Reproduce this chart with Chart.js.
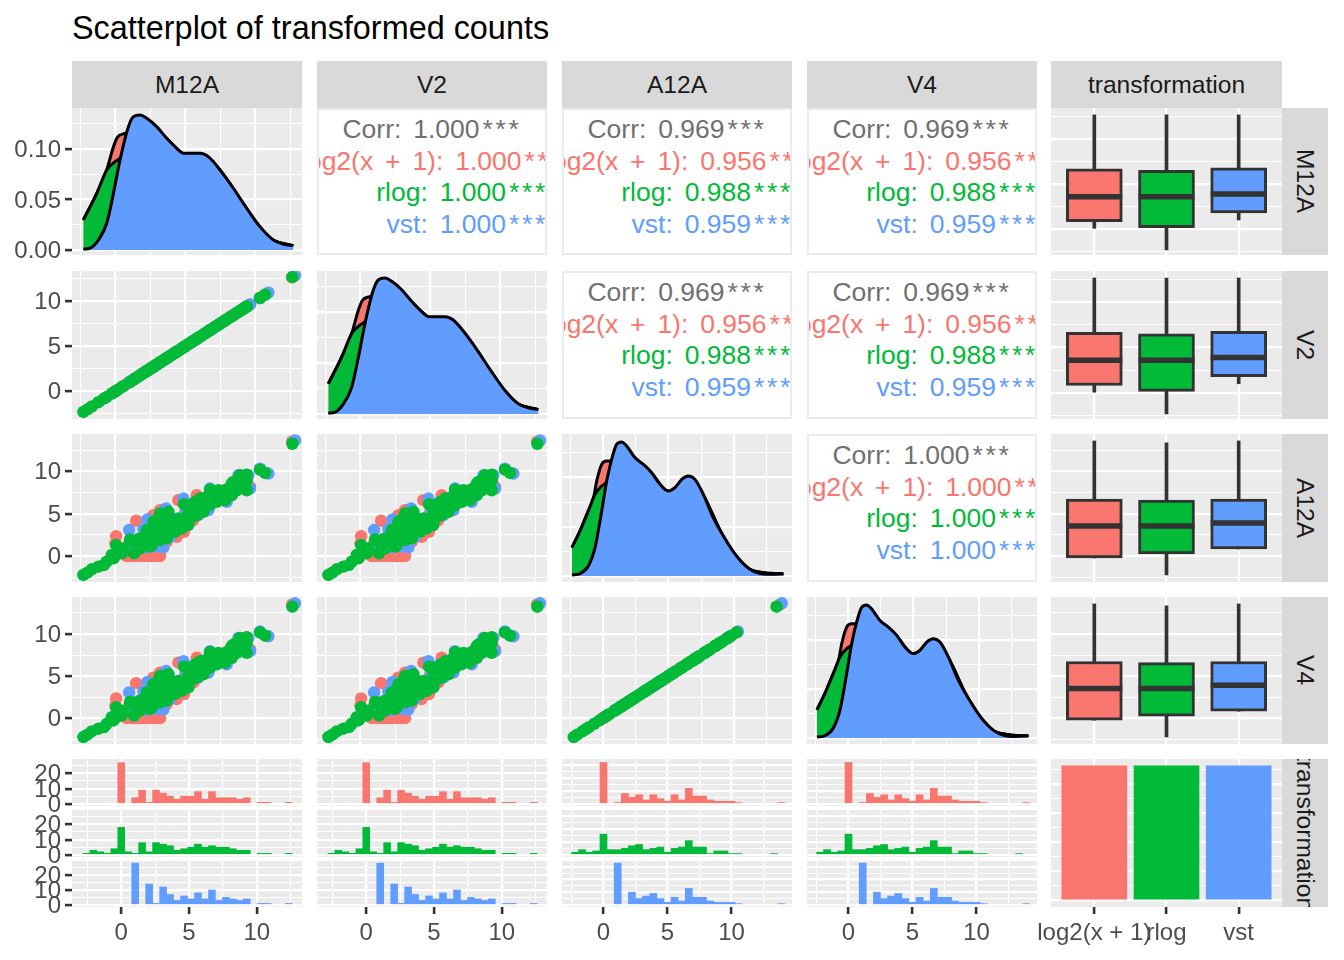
<!DOCTYPE html>
<html>
<head>
<meta charset="utf-8">
<title>Scatterplot of transformed counts</title>
<script src="https://cdn.jsdelivr.net/npm/chart.js@4/dist/chart.umd.min.js"></script>
<style>
html, body { margin: 0; padding: 0; background: #fff; overflow: hidden; width: 1344px; height: 960px; }
body { font-family: "Liberation Sans", sans-serif; position: relative; }
canvas { position: absolute; }
.title { position: absolute; left: 72px; top: 9px; font-size: 32.4px; line-height: 38px; color: #000; white-space: nowrap; }
.strip { position: absolute; background: #D9D9D9; color: #1A1A1A; font-size: 24.6px; display: flex; align-items: center; justify-content: center; overflow: hidden; white-space: nowrap; }
.strip.right { writing-mode: vertical-rl; }
.corr { position: absolute; box-sizing: border-box; border: 2px solid #EBEBEB; background: #fff; overflow: hidden; }
.corr div { position: absolute; white-space: nowrap; font-size: 26.5px; line-height: 32px; word-spacing: 4.5px; }
.corr span { letter-spacing: 2.7px; margin-left: 3px; }
</style>
</head>
<body>
<div class="title">Scatterplot of transformed counts</div>
<script>
// ---- data ----
var stripTop = ['M12A', 'V2', 'A12A', 'V4', 'transformation'];
var stripRight = ['M12A', 'V2', 'A12A', 'V4', 'transformation'];
var tfLabels = ['log2(x + 1)', 'rlog', 'vst'];
var tfCounts = [116, 116, 116];

// scatter, paired values per gene
var rlogM12A = [-2.29,-2,-1.69,-1.21,-.81,-.62,-.26,-.14,.05,.21,.45,1.05,1.33,1.64,1.76,2.12,2.29,2.6,2.6,2.9,3.07,3.19,3.43,3.62,3.79,3.79,4.26,4.14,4.67,4.74,4.9,5.21,5.57,5.69,6.05,5.81,6.4,6.76,6.76,7.24,7.71,7.83,8.19,8.31,8.67,9.02,9.26,9.38,8.9,10.33,10.69,12.64,
    .57,1.4,2,2.36,2.71,2.95,3.31,3.19,3.55,3.79,4.02,4.38,4.5,4.98,5.21,5.45,5.81,6.17,6.52,7,7.48,8.07,8.43,8.9,9.14,9.38,
    5.81,6.29,6.76,7.24,7.83,8.31,8.67,9.38,6.76,7.36,3.19,2.71,2.24,1.76,2.48,3.19,3.67,4.26,4.74,5.21,5.45];
var rlogA12A = [-2.24,-1.96,-1.57,-1.25,-1.06,-.67,.12,-.27,1.29,.51,.31,1.96,.31,1.29,2.08,1.69,2.59,1.29,2.27,3.06,4.43,2.67,3.84,2.47,5.22,3.45,4.24,3.25,3.65,4.24,6.12,6,5.41,6.39,6.78,5.41,6.39,7.37,6.78,7.18,6.98,7.76,7.37,8.55,8.94,8.16,8.55,9.61,9.53,10.2,9.8,13.25,
    .9,1.49,2.08,1.69,2.86,2.08,3.25,3.84,4.43,4.63,3.84,3.45,4.43,4.04,5.02,5.8,6,5.61,6.98,6.98,7.37,7.96,8.75,8.55,9.14,8.94,
    4.82,5.22,6,6.39,6.59,7.18,7.76,7.76,7.84,7.76,5.02,4.04,3.06,.9,1.1,1.88,2.08,2.86,3.25,3.65,4.55];
var vstM12A = [12.83,10.93,10.33,9.62,9.5,8.79,7.95,8.31,6.76,6.64,5.93,4.86,3.62,2.29,2,.98,1.05,3.43,2.95,2.24,3.9,4.5,5,3,4,5.3,6,7,7.5,2.5,1.6,1.3,3.5];
var vstA12A = [13.65,9.73,10.3,7.96,9.53,9.53,6.39,7.18,7.96,5.41,4.82,6.78,5.61,4.31,3.18,3.06,1.1,1.02,1.1,1,2.27,3.5,5,3.6,4.5,5.4,6,6.8,7.2,2.4,2,1.4,2.8];
var log2M12A = [1.48,.05,0,.81,1.1,1.4,1.7,2,2.3,2.6,2.9,3.19,0,3.19,2.71,4.5,5.81,4.9,5.57,4.38,3.67,9.62,10.33,12.62,6.5,7.5,8.5,9.2,4,3,5,2,1];
var log2A12A = [4.16,2.35,1.5,0,0,0,0,0,0,0,0,0,0,5.41,4.82,6.59,7.18,2.86,4.24,2.27,1.69,8.16,10.2,13.5,6.5,7.3,8.6,9.4,4.2,3.2,5.2,2.3,1.6];

// density curves of M12A (same shape for V2)
var densLog2XA = [-2.29,-1.33,-.62,-.14,.14,.69,1.29,1.76,3,5,7,9,11,12.7];
var densLog2YA = [.0297,.0561,.0792,.1023,.1116,.1155,.12,.126,.117,.093,.085,.047,.012,.0042];
var densRlogXA = [-2.29,-1.33,-.62,-.02,.33,.9,1.76,3,5,7,9,11,12.7];
var densRlogYA = [.0297,.0561,.0792,.0875,.0908,.1,.127,.118,.094,.086,.048,.012,.0042];
var densVstXA = [-2.29,-1.81,-1.21,-.62,-.14,.33,.93,1.29,1.76,2.24,2.95,3.67,4.38,4.86,6.05,6.64,7.48,8.43,9.38,10.33,11.29,12,12.71];
var densVstYA = [.0007,.0017,.0099,.0264,.0561,.0891,.1221,.132,.1337,.1304,.1221,.1106,.1007,.0957,.0957,.0924,.0792,.0611,.0413,.0231,.0099,.0059,.0043];

// density curves of A12A (same shape for V4)
var densLog2XB = [-2.37,-1.76,-1.12,-.74,-.48,-.1,.28,.53,1.4,2.44,3.72,5,6.5,7.66,9.19,11.22,13.77];
var densLog2YB = [.0288,.0457,.0661,.0779,.0965,.1135,.1169,.1169,.124,.117,.103,.085,.099,.081,.04,.0065,.002];
var densRlogXB = [-2.37,-1.76,-1.12,-.61,-.1,.15,.6,1.4,2.44,3.72,5,6.5,7.66,9.19,11.22,13.77];
var densRlogYB = [.0288,.0457,.0661,.083,.0915,.0938,.1,.125,.118,.104,.086,.1,.082,.04,.0065,.002];
var densVstXB = [-2.37,-1.76,-1.12,-.61,-.1,.28,.66,1.04,1.42,1.81,2.44,3.08,3.72,4.35,4.99,5.5,6.01,6.51,7.02,7.66,8.42,9.19,10.2,11.22,11.98,12.75,13.77];
var densVstYB = [.001,.0024,.0102,.0288,.0661,.0965,.1186,.1338,.1362,.1321,.1203,.1135,.105,.0932,.0864,.0898,.0982,.1016,.0982,.083,.0593,.0407,.0203,.0068,.0024,.0017,.0024];

// histogram bins
var binsA = [-2.57,-2.06,-1.54,-1.03,-.51,0,.51,1.03,1.54,2.06,2.57,3.09,3.6,4.12,4.63,5.15,5.66,6.17,6.69,7.2,7.72,8.23,8.75,9.26,9.78,10.29,10.8,11.32,11.83,12.35];
var binsB = [-2.22,-1.67,-1.11,-.56,0,.56,1.11,1.67,2.22,2.78,3.33,3.89,4.44,5,5.55,6.11,6.66,7.22,7.77,8.33,8.88,9.44,9.99,10.55,11.1,11.66,12.21,12.77,13.32,13.88];
var histLog2A = [0,0,0,0,0,27,0,4,9,1,9,7,5,3,5,5,8,3,8,4,4,4,3,4,0,1,1,0,0,1];
var histRlogA = [1,3,2,1,4,18,2,1,8,2,8,7,6,3,4,5,7,5,6,5,5,4,3,3,0,1,1,0,0,1];
var histVstA = [0,0,0,0,0,0,0,28,0,14,1,12,7,3,6,4,8,4,10,3,5,4,3,4,0,1,1,0,0,1];
var histLog2B = [0,0,0,0,32,0,1,8,5,7,3,7,4,2,7,3,12,6,6,3,2,2,2,1,0,0,0,0,0,1];
var histRlogB = [2,4,2,3,16,4,4,5,7,8,4,5,6,2,5,6,11,6,6,1,3,3,1,1,0,0,0,0,1,0];
var histVstB = [0,0,0,0,0,0,33,0,10,5,7,9,5,2,6,3,13,6,6,3,2,2,2,1,0,0,0,0,0,1];

// boxplots: log2, rlog, vst
var boxLowA = [.07,-2.33,1], boxQ1A = [.81,.15,1.78], boxMedA = [3.59,3.59,3.89], boxQ3A = [6.67,6.52,6.78], boxHighA = [12.67,12.67,12.67];
var boxLowB = [-.24,-2.24,.83], boxQ1B = [-.24,.24,.83], boxMedB = [3.54,3.54,3.9], boxQ3B = [6.73,6.61,6.73], boxHighB = [13.58,13.35,13.58];

// correlation text
var corrLabels = ['Corr', 'log2(x + 1)', 'rlog', 'vst'];
var corrAA = ['1.000', '1.000', '1.000', '1.000'];
var corrAB = ['0.969', '0.956', '0.988', '0.959'];
var corrBB = ['1.000', '1.000', '1.000', '1.000'];

// ---- layout ----
var RED = '#F8766D', GREEN = '#00BA38', BLUE = '#619CFF';
var FONT = '"Liberation Sans", sans-serif';
var colX = [72, 317, 562, 807, 1051], colW = [230, 230, 230, 230, 231];
var rowY = [108, 271, 434, 597, 759], rowH = [147, 148, 148, 147, 148];
var mL = 70, mT = 14, mR = 4, mB = 50;

Chart.register({
    id: 'panelBg',
    beforeDraw: function (chart) {
        var a = chart.chartArea, c = chart.ctx;
        c.save();
        c.fillStyle = '#EBEBEB';
        c.fillRect(a.left, a.top, a.right - a.left, a.bottom - a.top);
        c.restore();
    }
});

function isMajor(v, every) {
    return Math.abs(v / every - Math.round(v / every)) < 1e-6;
}

function axis(min, max, step, every, show, horizontal, label) {
    return {
        type: 'linear', min: min, max: max, offset: false,
        afterFit: function (s) {
            if (horizontal) s.height = show ? mB : 0; else s.width = show ? mL : 0;
            s.paddingLeft = s.paddingRight = s.paddingTop = s.paddingBottom = 0;
        },
        border: { display: false },
        grid: {
            color: '#fff', offset: false, drawTicks: show, tickLength: 7, tickWidth: 2.6,
            lineWidth: function (c) { return c.tick && isMajor(c.tick.value, every) ? 2.2 : 1.1; },
            tickColor: function (c) { return c.tick && isMajor(c.tick.value, every) ? '#333' : 'transparent'; }
        },
        ticks: {
            display: show, stepSize: step, includeBounds: false, autoSkip: false, maxRotation: 0, minRotation: 0,
            color: '#4D4D4D', padding: horizontal ? 5 : 4, labelOffset: horizontal ? 0 : 1.5, font: { family: FONT, size: 24 },
            callback: function (v) { return isMajor(v, every) ? (label ? label(v) : String(v)) : ''; }
        }
    };
}

function panel(x, y, w, h, type, datasets, xs, ys, showX, showY) {
    var cv = document.createElement('canvas');
    cv.width = w + mL + mR;
    cv.height = h + mT + mB;
    cv.style.left = (x - mL) + 'px';
    cv.style.top = (y - mT) + 'px';
    document.body.appendChild(cv);
    return new Chart(cv.getContext('2d'), {
        type: type,
        data: { datasets: datasets },
        options: {
            responsive: false, animation: false, devicePixelRatio: 1, events: [],
            layout: { autoPadding: false, padding: { left: showY ? 0 : mL, top: mT, right: mR, bottom: showX ? 0 : mB } },
            plugins: { legend: { display: false }, tooltip: { enabled: false } },
            scales: { x: xs, y: ys }
        }
    });
}

function zip(xv, yv) {
    return xv.map(function (v, i) { return { x: v, y: yv[i] }; });
}

// ---- strips ----
function strip(cls, x, y, w, h, text) {
    var d = document.createElement('div');
    d.className = 'strip ' + cls;
    d.style.cssText = 'left:' + x + 'px;top:' + y + 'px;width:' + w + 'px;height:' + h + 'px';
    d.textContent = text;
    document.body.appendChild(d);
}
stripTop.forEach(function (t, i) { strip('', colX[i], 61, colW[i], 47, t); });
stripRight.forEach(function (t, i) { strip('right', 1282, rowY[i], 46, rowH[i], t); });

// ---- correlation cells ----
function corrCell(c, r, vals) {
    var d = document.createElement('div');
    d.className = 'corr';
    d.style.cssText = 'left:' + colX[c] + 'px;top:' + rowY[r] + 'px;width:' + colW[c] + 'px;height:' + rowH[r] + 'px';
    var colors = ['#707070', RED, GREEN, BLUE];
    corrLabels.forEach(function (lab, i) {
        var t = document.createElement('div');
        t.textContent = lab + ': ' + vals[i];
        var stars = document.createElement('span');
        stars.textContent = '***';
        t.appendChild(stars);
        t.style.color = colors[i];
        t.style.top = (3 + i * 31.5) + 'px';
        if (i === 0) { t.style.left = '50%'; t.style.transform = 'translateX(-50%)'; }
        else if (i === 1) t.style.left = '-18px';
        else t.style.right = '-3px';
        d.appendChild(t);
    });
    document.body.appendChild(d);
}
corrCell(1, 0, corrAA);
corrCell(2, 0, corrAB);
corrCell(3, 0, corrAB);
corrCell(2, 1, corrAB);
corrCell(3, 1, corrAB);
corrCell(3, 2, corrBB);

// ---- density cells ----
function density(c, r, lx, ly, gx, gy, bx, by, xMin, xMax, yMin, yMax, showY) {
    function ds(xv, yv, col) {
        return { data: zip(xv, yv), backgroundColor: col, borderColor: '#000', borderWidth: 3, pointRadius: 0, fill: 'origin', cubicInterpolationMode: 'monotone' };
    }
    panel(colX[c], rowY[r], colW[c], rowH[r], 'line',
        [ds(bx, by, BLUE), ds(gx, gy, GREEN), ds(lx, ly, RED)],
        axis(xMin, xMax, 2.5, 5, false, true),
        axis(yMin, yMax, .025, .05, showY, false, function (v) { return v.toFixed(2); }),
        false, showY);
}
density(0, 0, densLog2XA, densLog2YA, densRlogXA, densRlogYA, densVstXA, densVstYA, -3.1, 13.33, -.005, .1406, true);
density(1, 1, densLog2XA, densLog2YA, densRlogXA, densRlogYA, densVstXA, densVstYA, -3.1, 13.33, -.005, .1406, false);
density(2, 2, densLog2XB, densLog2YB, densRlogXB, densRlogYB, densVstXB, densVstYB, -3.13, 14.43, -.0061, .1443, false);
density(3, 3, densLog2XB, densLog2YB, densRlogXB, densRlogYB, densVstXB, densVstYB, -3.13, 14.43, -.0061, .1443, false);

// ---- scatter cells ----
function scatter(c, r, lx, ly, gx, gy, bx, by, xMin, xMax, yMin, yMax, showY) {
    function ds(xv, yv, col) {
        return { data: zip(xv, yv), backgroundColor: col, borderWidth: 0, pointRadius: 6.2 };
    }
    panel(colX[c], rowY[r], colW[c], rowH[r], 'scatter',
        [ds(gx, gy, GREEN), ds(bx, by, BLUE), ds(lx, ly, RED)],
        axis(xMin, xMax, 2.5, 5, false, true),
        axis(yMin, yMax, 2.5, 5, showY, false),
        false, showY);
}
scatter(0, 1, log2M12A, log2M12A, rlogM12A, rlogM12A, vstM12A, vstM12A, -3.1, 13.33, -3.07, 13.32, true);
scatter(0, 2, log2M12A, log2A12A, rlogM12A, rlogA12A, vstM12A, vstA12A, -3.1, 13.33, -3.07, 14.4, true);
scatter(0, 3, log2M12A, log2A12A, rlogM12A, rlogA12A, vstM12A, vstA12A, -3.1, 13.33, -3.07, 14.4, true);
scatter(1, 2, log2M12A, log2A12A, rlogM12A, rlogA12A, vstM12A, vstA12A, -3.1, 13.33, -3.07, 14.4, false);
scatter(1, 3, log2M12A, log2A12A, rlogM12A, rlogA12A, vstM12A, vstA12A, -3.1, 13.33, -3.07, 14.4, false);
scatter(2, 3, log2A12A, log2A12A, rlogA12A, rlogA12A, vstA12A, vstA12A, -3.13, 14.43, -3.07, 14.4, false);

// ---- boxplots on the right ----
function boxes(r, low, q1, med, q3, high, yMin, yMax) {
    var pos = [0, 1, 2];
    var whisk = pos.map(function (p, i) { return { x: p, y: [low[i], high[i]] }; });
    var box = pos.map(function (p, i) { return { x: p, y: [q1[i], q3[i]] }; });
    panel(colX[4], rowY[r], colW[4], rowH[r], 'bar', [
        { type: 'line', data: zip(pos, med), showLine: false, pointStyle: 'line', pointRadius: 28, pointBorderWidth: 5.5, pointBorderColor: '#333', order: 0 },
        { data: box, backgroundColor: [RED, GREEN, BLUE], borderColor: '#333', borderWidth: 3, borderSkipped: false, barThickness: 56, grouped: false, order: 1 },
        { data: whisk, backgroundColor: '#333', barThickness: 3, grouped: false, order: 2 }
    ], axis(-.6, 2.6, 1, 1, false, true), axis(yMin, yMax, 2.5, 5, false, false), false, false);
}
boxes(0, boxLowA, boxQ1A, boxMedA, boxQ3A, boxHighA, -2.89, 13.44);
boxes(1, boxLowA, boxQ1A, boxMedA, boxQ3A, boxHighA, -2.89, 13.44);
boxes(2, boxLowB, boxQ1B, boxMedB, boxQ3B, boxHighB, -3.07, 14.4);
boxes(3, boxLowB, boxQ1B, boxMedB, boxQ3B, boxHighB, -3.07, 14.4);

// ---- histograms in the bottom row ----
var facetY = [759, 810, 861], facetH = [47, 47, 46];
function hist(c, f, bins, counts, col, xMin, xMax, yMin, yMax, showX, showY) {
    var pts = zip(bins, counts).filter(function (p) { return p.y > 0; });
    panel(colX[c], facetY[f], colW[c], facetH[f], 'bar',
        [{ data: pts, backgroundColor: col, barPercentage: 1, categoryPercentage: 1 }],
        axis(xMin, xMax, 2.5, 5, showX, true),
        axis(yMin, yMax, 5, 10, showY, false),
        showX, showY);
}
[0, 1].forEach(function (c) {
    hist(c, 0, binsA, histLog2A, RED, -3.63, 13.33, -1.4, 29.4, false, c === 0);
    hist(c, 1, binsA, histRlogA, GREEN, -3.63, 13.33, -1.4, 29.4, false, c === 0);
    hist(c, 2, binsA, histVstA, BLUE, -3.63, 13.33, -1.4, 29.4, true, c === 0);
});
[2, 3].forEach(function (c) {
    hist(c, 0, binsB, histLog2B, RED, -3.24, 14.72, -1.65, 34.65, false, false);
    hist(c, 1, binsB, histRlogB, GREEN, -3.24, 14.72, -1.65, 34.65, false, false);
    hist(c, 2, binsB, histVstB, BLUE, -3.24, 14.72, -1.65, 34.65, true, false);
});

// ---- count bars, bottom right ----
panel(colX[4], rowY[4], colW[4], rowH[4], 'bar',
    [{ data: zip([0, 1, 2], tfCounts), backgroundColor: [RED, GREEN, BLUE], barThickness: 65 }],
    axis(-.6, 2.6, 1, 1, true, true, function (v) { return tfLabels[v]; }),
    axis(-5.8, 121.8, 12.5, 25, false, false),
    true, false);
</script>
</body>
</html>
